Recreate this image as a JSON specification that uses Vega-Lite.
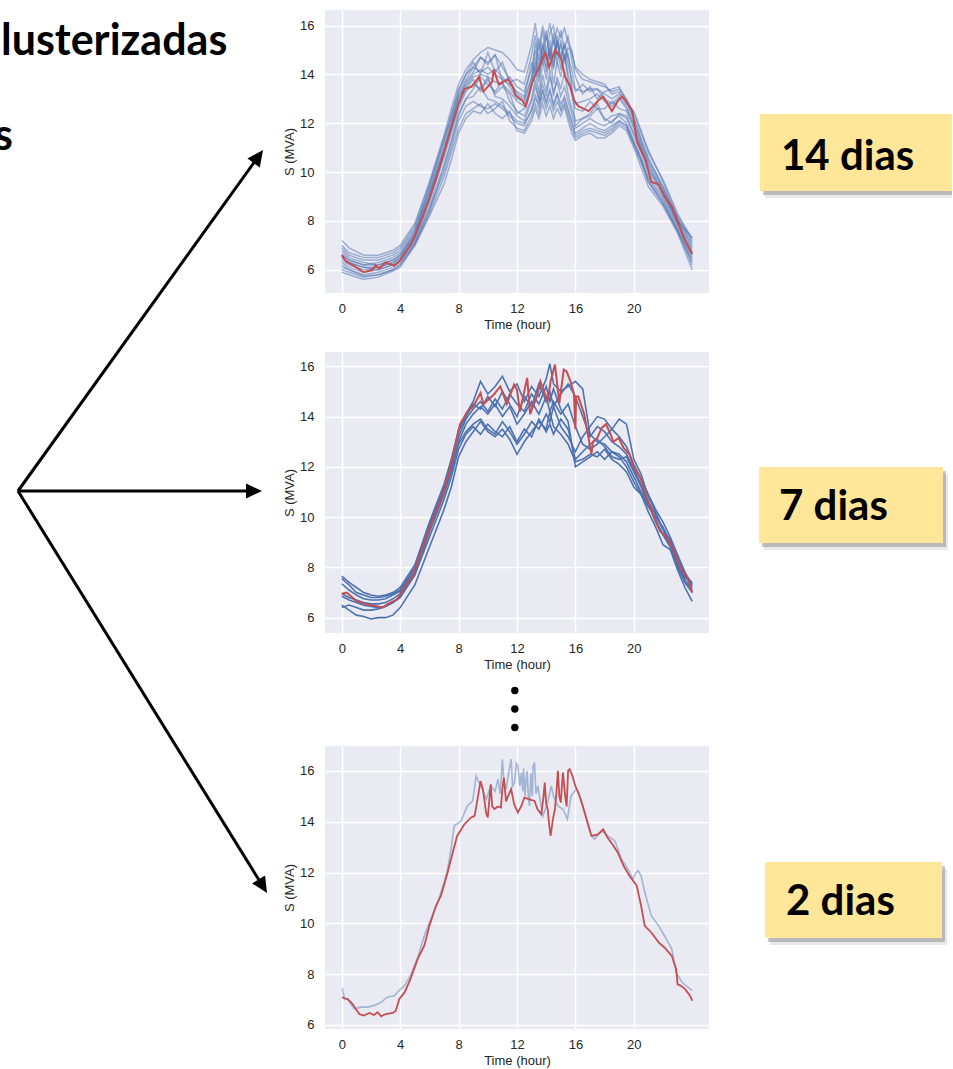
{
"$schema":"https://vega.github.io/schema/vega-lite/v6.json",
"background":"white",
"padding":{"top":10,"left":0,"right":0,"bottom":0},
"spacing":0,
"config":{"view":{"stroke":null},"axis":{"domain":false,"ticks":false,"tickSize":0,"grid":true,"gridColor":"#ffffff","gridWidth":1.5,"labelFont":"Liberation Sans","labelFontSize":13,"labelColor":"#262626","titleFont":"Liberation Sans","titleFontSize":13,"titleFontWeight":"normal","titleColor":"#262626"}},
"datasets":{
"p1":[
{"s":"a","t":0,"v":7.2},{"s":"a","t":0.5,"v":6.9},{"s":"a","t":1.5,"v":6.6},{"s":"a","t":2.5,"v":6.6},{"s":"a","t":3.5,"v":6.8},{"s":"a","t":4,"v":7.0},{"s":"a","t":5,"v":7.9},{"s":"a","t":6,"v":9.6},{"s":"a","t":7,"v":11.5},{"s":"a","t":7.5,"v":12.6},{"s":"a","t":8,"v":13.6},{"s":"a","t":8.5,"v":14.2},{"s":"a","t":9,"v":14.6},{"s":"a","t":9.5,"v":14.9},{"s":"a","t":10,"v":15.1},{"s":"a","t":10.5,"v":15.0},{"s":"a","t":11,"v":14.9},{"s":"a","t":11.5,"v":14.6},{"s":"a","t":12,"v":14.2},{"s":"a","t":12.5,"v":14.1},{"s":"a","t":13,"v":15.2},{"s":"a","t":13.25,"v":16.1},{"s":"a","t":13.5,"v":15.0},{"s":"a","t":13.75,"v":16.0},{"s":"a","t":14,"v":15.4},{"s":"a","t":14.25,"v":16.1},{"s":"a","t":14.5,"v":15.2},{"s":"a","t":14.75,"v":15.9},{"s":"a","t":15,"v":15.5},{"s":"a","t":15.25,"v":15.9},{"s":"a","t":15.5,"v":15.3},{"s":"a","t":15.75,"v":15.0},{"s":"a","t":16,"v":14.2},{"s":"a","t":16.5,"v":13.8},{"s":"a","t":17,"v":13.7},{"s":"a","t":17.5,"v":13.6},{"s":"a","t":18,"v":13.5},{"s":"a","t":18.5,"v":13.3},{"s":"a","t":19,"v":13.4},{"s":"a","t":19.5,"v":13.0},{"s":"a","t":20,"v":12.4},{"s":"a","t":20.5,"v":11.6},{"s":"a","t":21,"v":10.9},{"s":"a","t":22,"v":9.6},{"s":"a","t":23,"v":8.2},{"s":"a","t":24,"v":7.3},
{"s":"b","t":0,"v":6.9},{"s":"b","t":0.5,"v":6.6},{"s":"b","t":1.5,"v":6.4},{"s":"b","t":2.5,"v":6.4},{"s":"b","t":3.5,"v":6.6},{"s":"b","t":4,"v":6.8},{"s":"b","t":5,"v":7.7},{"s":"b","t":6,"v":9.3},{"s":"b","t":7,"v":11.2},{"s":"b","t":7.5,"v":12.3},{"s":"b","t":8,"v":13.3},{"s":"b","t":8.5,"v":14.0},{"s":"b","t":9,"v":14.5},{"s":"b","t":9.5,"v":14.0},{"s":"b","t":10,"v":14.9},{"s":"b","t":10.5,"v":14.1},{"s":"b","t":11,"v":14.5},{"s":"b","t":11.5,"v":13.7},{"s":"b","t":12,"v":13.8},{"s":"b","t":12.5,"v":13.6},{"s":"b","t":13,"v":14.8},{"s":"b","t":13.25,"v":15.6},{"s":"b","t":13.5,"v":14.6},{"s":"b","t":13.75,"v":15.8},{"s":"b","t":14,"v":14.9},{"s":"b","t":14.25,"v":15.7},{"s":"b","t":14.5,"v":16.0},{"s":"b","t":14.75,"v":15.1},{"s":"b","t":15,"v":15.8},{"s":"b","t":15.25,"v":15.0},{"s":"b","t":15.5,"v":15.6},{"s":"b","t":15.75,"v":14.6},{"s":"b","t":16,"v":13.9},{"s":"b","t":16.5,"v":13.2},{"s":"b","t":17,"v":13.5},{"s":"b","t":17.5,"v":13.0},{"s":"b","t":18,"v":13.3},{"s":"b","t":18.5,"v":13.4},{"s":"b","t":19,"v":13.5},{"s":"b","t":19.5,"v":12.9},{"s":"b","t":20,"v":12.2},{"s":"b","t":20.5,"v":11.4},{"s":"b","t":21,"v":10.6},{"s":"b","t":22,"v":9.4},{"s":"b","t":23,"v":8.1},{"s":"b","t":24,"v":7.1},
{"s":"c","t":0,"v":6.6},{"s":"c","t":0.5,"v":6.4},{"s":"c","t":1.5,"v":6.2},{"s":"c","t":2.5,"v":6.3},{"s":"c","t":3.5,"v":6.5},{"s":"c","t":4,"v":6.7},{"s":"c","t":5,"v":7.6},{"s":"c","t":6,"v":9.2},{"s":"c","t":7,"v":11.0},{"s":"c","t":7.5,"v":12.0},{"s":"c","t":8,"v":13.0},{"s":"c","t":8.5,"v":13.7},{"s":"c","t":9,"v":14.1},{"s":"c","t":9.5,"v":14.7},{"s":"c","t":10,"v":14.4},{"s":"c","t":10.5,"v":14.8},{"s":"c","t":11,"v":13.7},{"s":"c","t":11.5,"v":13.9},{"s":"c","t":12,"v":13.5},{"s":"c","t":12.5,"v":13.3},{"s":"c","t":13,"v":14.2},{"s":"c","t":13.25,"v":15.0},{"s":"c","t":13.5,"v":14.1},{"s":"c","t":13.75,"v":15.3},{"s":"c","t":14,"v":14.6},{"s":"c","t":14.25,"v":15.1},{"s":"c","t":14.5,"v":14.2},{"s":"c","t":14.75,"v":15.4},{"s":"c","t":15,"v":14.7},{"s":"c","t":15.25,"v":15.2},{"s":"c","t":15.5,"v":14.4},{"s":"c","t":15.75,"v":13.8},{"s":"c","t":16,"v":13.3},{"s":"c","t":16.5,"v":13.6},{"s":"c","t":17,"v":13.3},{"s":"c","t":17.5,"v":13.4},{"s":"c","t":18,"v":13.0},{"s":"c","t":18.5,"v":12.8},{"s":"c","t":19,"v":13.1},{"s":"c","t":19.5,"v":12.7},{"s":"c","t":20,"v":12.0},{"s":"c","t":20.5,"v":11.2},{"s":"c","t":21,"v":10.4},{"s":"c","t":22,"v":9.3},{"s":"c","t":23,"v":8.0},{"s":"c","t":24,"v":6.9},
{"s":"d","t":0,"v":6.4},{"s":"d","t":0.5,"v":6.2},{"s":"d","t":1.5,"v":6.0},{"s":"d","t":2.5,"v":6.1},{"s":"d","t":3.5,"v":6.3},{"s":"d","t":4,"v":6.5},{"s":"d","t":5,"v":7.4},{"s":"d","t":6,"v":9.0},{"s":"d","t":7,"v":10.8},{"s":"d","t":7.5,"v":11.8},{"s":"d","t":8,"v":12.8},{"s":"d","t":8.5,"v":13.4},{"s":"d","t":9,"v":13.8},{"s":"d","t":9.5,"v":13.3},{"s":"d","t":10,"v":13.8},{"s":"d","t":10.5,"v":13.2},{"s":"d","t":11,"v":13.5},{"s":"d","t":11.5,"v":13.2},{"s":"d","t":12,"v":12.4},{"s":"d","t":12.5,"v":12.6},{"s":"d","t":13,"v":13.5},{"s":"d","t":13.25,"v":14.3},{"s":"d","t":13.5,"v":13.2},{"s":"d","t":13.75,"v":14.6},{"s":"d","t":14,"v":13.8},{"s":"d","t":14.25,"v":14.9},{"s":"d","t":14.5,"v":13.6},{"s":"d","t":14.75,"v":14.5},{"s":"d","t":15,"v":13.9},{"s":"d","t":15.25,"v":14.8},{"s":"d","t":15.5,"v":13.7},{"s":"d","t":15.75,"v":13.2},{"s":"d","t":16,"v":12.6},{"s":"d","t":16.5,"v":12.5},{"s":"d","t":17,"v":12.9},{"s":"d","t":17.5,"v":12.6},{"s":"d","t":18,"v":12.6},{"s":"d","t":18.5,"v":12.9},{"s":"d","t":19,"v":12.6},{"s":"d","t":19.5,"v":12.5},{"s":"d","t":20,"v":11.8},{"s":"d","t":20.5,"v":11.0},{"s":"d","t":21,"v":10.2},{"s":"d","t":22,"v":9.1},{"s":"d","t":23,"v":7.9},{"s":"d","t":24,"v":6.8},
{"s":"e","t":0,"v":6.2},{"s":"e","t":0.5,"v":6.0},{"s":"e","t":1.5,"v":5.8},{"s":"e","t":2.5,"v":5.9},{"s":"e","t":3.5,"v":6.1},{"s":"e","t":4,"v":6.3},{"s":"e","t":5,"v":7.1},{"s":"e","t":6,"v":8.4},{"s":"e","t":7,"v":10.2},{"s":"e","t":7.5,"v":11.2},{"s":"e","t":8,"v":12.3},{"s":"e","t":8.5,"v":13.0},{"s":"e","t":9,"v":13.4},{"s":"e","t":9.5,"v":13.9},{"s":"e","t":10,"v":13.6},{"s":"e","t":10.5,"v":13.3},{"s":"e","t":11,"v":13.7},{"s":"e","t":11.5,"v":12.9},{"s":"e","t":12,"v":12.5},{"s":"e","t":12.5,"v":12.3},{"s":"e","t":13,"v":13.0},{"s":"e","t":13.25,"v":13.8},{"s":"e","t":13.5,"v":12.9},{"s":"e","t":13.75,"v":14.0},{"s":"e","t":14,"v":13.3},{"s":"e","t":14.25,"v":14.2},{"s":"e","t":14.5,"v":13.1},{"s":"e","t":14.75,"v":13.9},{"s":"e","t":15,"v":13.4},{"s":"e","t":15.25,"v":14.1},{"s":"e","t":15.5,"v":13.2},{"s":"e","t":15.75,"v":12.6},{"s":"e","t":16,"v":12.1},{"s":"e","t":16.5,"v":12.2},{"s":"e","t":17,"v":12.4},{"s":"e","t":17.5,"v":12.8},{"s":"e","t":18,"v":12.1},{"s":"e","t":18.5,"v":12.3},{"s":"e","t":19,"v":12.4},{"s":"e","t":19.5,"v":12.2},{"s":"e","t":20,"v":11.5},{"s":"e","t":20.5,"v":10.8},{"s":"e","t":21,"v":10.0},{"s":"e","t":22,"v":9.0},{"s":"e","t":23,"v":7.8},{"s":"e","t":24,"v":6.6},
{"s":"f","t":0,"v":6.0},{"s":"f","t":0.5,"v":5.9},{"s":"f","t":1.5,"v":5.7},{"s":"f","t":2.5,"v":5.8},{"s":"f","t":3.5,"v":6.0},{"s":"f","t":4,"v":6.2},{"s":"f","t":5,"v":7.0},{"s":"f","t":6,"v":8.3},{"s":"f","t":7,"v":9.8},{"s":"f","t":7.5,"v":10.8},{"s":"f","t":8,"v":11.8},{"s":"f","t":8.5,"v":12.4},{"s":"f","t":9,"v":12.6},{"s":"f","t":9.5,"v":12.8},{"s":"f","t":10,"v":12.4},{"s":"f","t":10.5,"v":12.6},{"s":"f","t":11,"v":12.9},{"s":"f","t":11.5,"v":12.1},{"s":"f","t":12,"v":11.8},{"s":"f","t":12.5,"v":11.7},{"s":"f","t":13,"v":12.3},{"s":"f","t":13.25,"v":12.8},{"s":"f","t":13.5,"v":12.4},{"s":"f","t":13.75,"v":13.1},{"s":"f","t":14,"v":12.6},{"s":"f","t":14.25,"v":13.0},{"s":"f","t":14.5,"v":12.5},{"s":"f","t":14.75,"v":12.9},{"s":"f","t":15,"v":12.5},{"s":"f","t":15.25,"v":12.8},{"s":"f","t":15.5,"v":12.3},{"s":"f","t":15.75,"v":11.8},{"s":"f","t":16,"v":11.4},{"s":"f","t":16.5,"v":11.6},{"s":"f","t":17,"v":11.7},{"s":"f","t":17.5,"v":11.6},{"s":"f","t":18,"v":11.5},{"s":"f","t":18.5,"v":11.7},{"s":"f","t":19,"v":12.0},{"s":"f","t":19.5,"v":11.8},{"s":"f","t":20,"v":11.1},{"s":"f","t":20.5,"v":10.4},{"s":"f","t":21,"v":9.6},{"s":"f","t":22,"v":8.7},{"s":"f","t":23,"v":7.6},{"s":"f","t":24,"v":6.2},
{"s":"g","t":0,"v":5.9},{"s":"g","t":0.5,"v":5.8},{"s":"g","t":1.5,"v":5.6},{"s":"g","t":2.5,"v":5.7},{"s":"g","t":3.5,"v":5.95},{"s":"g","t":4,"v":6.1},{"s":"g","t":5,"v":7.0},{"s":"g","t":6,"v":8.2},{"s":"g","t":7,"v":9.5},{"s":"g","t":7.5,"v":10.5},{"s":"g","t":8,"v":11.6},{"s":"g","t":8.5,"v":12.2},{"s":"g","t":9,"v":12.5},{"s":"g","t":9.5,"v":12.4},{"s":"g","t":10,"v":12.8},{"s":"g","t":10.5,"v":12.4},{"s":"g","t":11,"v":12.2},{"s":"g","t":11.5,"v":12.5},{"s":"g","t":12,"v":11.7},{"s":"g","t":12.5,"v":11.6},{"s":"g","t":13,"v":12.1},{"s":"g","t":13.25,"v":12.6},{"s":"g","t":13.5,"v":12.2},{"s":"g","t":13.75,"v":12.8},{"s":"g","t":14,"v":12.3},{"s":"g","t":14.25,"v":12.7},{"s":"g","t":14.5,"v":12.2},{"s":"g","t":14.75,"v":12.6},{"s":"g","t":15,"v":12.3},{"s":"g","t":15.25,"v":12.7},{"s":"g","t":15.5,"v":12.1},{"s":"g","t":15.75,"v":11.6},{"s":"g","t":16,"v":11.3},{"s":"g","t":16.5,"v":11.5},{"s":"g","t":17,"v":11.6},{"s":"g","t":17.5,"v":11.4},{"s":"g","t":18,"v":11.4},{"s":"g","t":18.5,"v":11.6},{"s":"g","t":19,"v":11.9},{"s":"g","t":19.5,"v":11.7},{"s":"g","t":20,"v":11.0},{"s":"g","t":20.5,"v":10.2},{"s":"g","t":21,"v":9.4},{"s":"g","t":22,"v":8.6},{"s":"g","t":23,"v":7.5},{"s":"g","t":24,"v":6.0},
{"s":"h","t":0,"v":6.8},{"s":"h","t":0.5,"v":6.5},{"s":"h","t":1.5,"v":6.3},{"s":"h","t":2.5,"v":6.2},{"s":"h","t":3.5,"v":6.4},{"s":"h","t":4,"v":6.6},{"s":"h","t":5,"v":7.5},{"s":"h","t":6,"v":9.4},{"s":"h","t":7,"v":11.3},{"s":"h","t":7.5,"v":12.2},{"s":"h","t":8,"v":13.2},{"s":"h","t":8.5,"v":13.8},{"s":"h","t":9,"v":14.3},{"s":"h","t":9.5,"v":14.7},{"s":"h","t":10,"v":14.5},{"s":"h","t":10.5,"v":14.8},{"s":"h","t":11,"v":14.3},{"s":"h","t":11.5,"v":13.8},{"s":"h","t":12,"v":13.2},{"s":"h","t":12.5,"v":13.0},{"s":"h","t":13,"v":13.9},{"s":"h","t":13.25,"v":15.3},{"s":"h","t":13.5,"v":14.4},{"s":"h","t":13.75,"v":15.0},{"s":"h","t":14,"v":15.8},{"s":"h","t":14.25,"v":14.6},{"s":"h","t":14.5,"v":15.4},{"s":"h","t":14.75,"v":14.8},{"s":"h","t":15,"v":15.2},{"s":"h","t":15.25,"v":14.5},{"s":"h","t":15.5,"v":14.9},{"s":"h","t":15.75,"v":13.5},{"s":"h","t":16,"v":11.9},{"s":"h","t":16.5,"v":12.2},{"s":"h","t":17,"v":12.3},{"s":"h","t":17.5,"v":12.6},{"s":"h","t":18,"v":12.2},{"s":"h","t":18.5,"v":12.0},{"s":"h","t":19,"v":12.4},{"s":"h","t":19.5,"v":12.3},{"s":"h","t":20,"v":11.6},{"s":"h","t":20.5,"v":11.0},{"s":"h","t":21,"v":10.1},{"s":"h","t":22,"v":9.2},{"s":"h","t":23,"v":7.9},{"s":"h","t":24,"v":6.7},
{"s":"i","t":0,"v":6.5},{"s":"i","t":0.5,"v":6.3},{"s":"i","t":1.5,"v":6.1},{"s":"i","t":2.5,"v":6.0},{"s":"i","t":3.5,"v":6.2},{"s":"i","t":4,"v":6.4},{"s":"i","t":5,"v":7.3},{"s":"i","t":6,"v":8.8},{"s":"i","t":7,"v":10.6},{"s":"i","t":7.5,"v":11.6},{"s":"i","t":8,"v":12.6},{"s":"i","t":8.5,"v":13.3},{"s":"i","t":9,"v":13.6},{"s":"i","t":9.5,"v":13.4},{"s":"i","t":10,"v":13.9},{"s":"i","t":10.5,"v":13.1},{"s":"i","t":11,"v":13.0},{"s":"i","t":11.5,"v":12.7},{"s":"i","t":12,"v":12.3},{"s":"i","t":12.5,"v":12.1},{"s":"i","t":13,"v":12.9},{"s":"i","t":13.25,"v":13.5},{"s":"i","t":13.5,"v":13.0},{"s":"i","t":13.75,"v":13.6},{"s":"i","t":14,"v":13.1},{"s":"i","t":14.25,"v":13.9},{"s":"i","t":14.5,"v":13.3},{"s":"i","t":14.75,"v":13.7},{"s":"i","t":15,"v":13.1},{"s":"i","t":15.25,"v":13.5},{"s":"i","t":15.5,"v":12.9},{"s":"i","t":15.75,"v":12.4},{"s":"i","t":16,"v":11.8},{"s":"i","t":16.5,"v":12.0},{"s":"i","t":17,"v":12.2},{"s":"i","t":17.5,"v":12.0},{"s":"i","t":18,"v":11.9},{"s":"i","t":18.5,"v":12.1},{"s":"i","t":19,"v":12.3},{"s":"i","t":19.5,"v":12.0},{"s":"i","t":20,"v":11.3},{"s":"i","t":20.5,"v":10.6},{"s":"i","t":21,"v":9.8},{"s":"i","t":22,"v":8.9},{"s":"i","t":23,"v":7.7},{"s":"i","t":24,"v":6.5},
{"s":"j","t":0,"v":7.0},{"s":"j","t":0.5,"v":6.7},{"s":"j","t":1.5,"v":6.5},{"s":"j","t":2.5,"v":6.5},{"s":"j","t":3.5,"v":6.7},{"s":"j","t":4,"v":6.9},{"s":"j","t":5,"v":7.8},{"s":"j","t":6,"v":9.5},{"s":"j","t":7,"v":11.4},{"s":"j","t":7.5,"v":12.4},{"s":"j","t":8,"v":13.4},{"s":"j","t":8.5,"v":14.0},{"s":"j","t":9,"v":14.3},{"s":"j","t":9.5,"v":14.1},{"s":"j","t":10,"v":14.3},{"s":"j","t":10.5,"v":14.0},{"s":"j","t":11,"v":13.8},{"s":"j","t":11.5,"v":13.6},{"s":"j","t":12,"v":13.3},{"s":"j","t":12.5,"v":13.1},{"s":"j","t":13,"v":14.5},{"s":"j","t":13.25,"v":14.0},{"s":"j","t":13.5,"v":15.5},{"s":"j","t":13.75,"v":14.4},{"s":"j","t":14,"v":15.6},{"s":"j","t":14.25,"v":14.8},{"s":"j","t":14.5,"v":15.7},{"s":"j","t":14.75,"v":14.4},{"s":"j","t":15,"v":15.4},{"s":"j","t":15.25,"v":14.6},{"s":"j","t":15.5,"v":15.1},{"s":"j","t":15.75,"v":14.9},{"s":"j","t":16,"v":14.3},{"s":"j","t":16.5,"v":14.0},{"s":"j","t":17,"v":13.8},{"s":"j","t":17.5,"v":13.7},{"s":"j","t":18,"v":13.6},{"s":"j","t":18.5,"v":13.2},{"s":"j","t":19,"v":13.3},{"s":"j","t":19.5,"v":12.8},{"s":"j","t":20,"v":12.5},{"s":"j","t":20.5,"v":11.7},{"s":"j","t":21,"v":10.8},{"s":"j","t":22,"v":9.7},{"s":"j","t":23,"v":8.3},{"s":"j","t":24,"v":7.2},
{"s":"k","t":0,"v":6.3},{"s":"k","t":0.5,"v":6.1},{"s":"k","t":1.5,"v":5.9},{"s":"k","t":2.5,"v":6.0},{"s":"k","t":3.5,"v":6.2},{"s":"k","t":4,"v":6.4},{"s":"k","t":5,"v":7.2},{"s":"k","t":6,"v":8.6},{"s":"k","t":7,"v":10.3},{"s":"k","t":7.5,"v":11.3},{"s":"k","t":8,"v":12.4},{"s":"k","t":8.5,"v":13.0},{"s":"k","t":9,"v":13.1},{"s":"k","t":9.5,"v":13.5},{"s":"k","t":10,"v":13.0},{"s":"k","t":10.5,"v":12.9},{"s":"k","t":11,"v":12.7},{"s":"k","t":11.5,"v":12.4},{"s":"k","t":12,"v":12.1},{"s":"k","t":12.5,"v":12.0},{"s":"k","t":13,"v":12.5},{"s":"k","t":13.25,"v":13.2},{"s":"k","t":13.5,"v":12.6},{"s":"k","t":13.75,"v":13.4},{"s":"k","t":14,"v":12.8},{"s":"k","t":14.25,"v":13.3},{"s":"k","t":14.5,"v":12.7},{"s":"k","t":14.75,"v":13.2},{"s":"k","t":15,"v":12.6},{"s":"k","t":15.25,"v":13.0},{"s":"k","t":15.5,"v":12.5},{"s":"k","t":15.75,"v":12.0},{"s":"k","t":16,"v":11.6},{"s":"k","t":16.5,"v":11.8},{"s":"k","t":17,"v":12.0},{"s":"k","t":17.5,"v":11.8},{"s":"k","t":18,"v":11.7},{"s":"k","t":18.5,"v":11.9},{"s":"k","t":19,"v":12.1},{"s":"k","t":19.5,"v":11.9},{"s":"k","t":20,"v":11.2},{"s":"k","t":20.5,"v":10.5},{"s":"k","t":21,"v":9.7},{"s":"k","t":22,"v":8.8},{"s":"k","t":23,"v":7.6},{"s":"k","t":24,"v":6.3},
{"s":"l","t":0,"v":6.7},{"s":"l","t":0.5,"v":6.4},{"s":"l","t":1.5,"v":6.2},{"s":"l","t":2.5,"v":6.2},{"s":"l","t":3.5,"v":6.4},{"s":"l","t":4,"v":6.6},{"s":"l","t":5,"v":7.5},{"s":"l","t":6,"v":9.1},{"s":"l","t":7,"v":10.9},{"s":"l","t":7.5,"v":11.9},{"s":"l","t":8,"v":12.9},{"s":"l","t":8.5,"v":13.5},{"s":"l","t":9,"v":13.9},{"s":"l","t":9.5,"v":14.0},{"s":"l","t":10,"v":13.9},{"s":"l","t":10.5,"v":13.7},{"s":"l","t":11,"v":13.6},{"s":"l","t":11.5,"v":13.3},{"s":"l","t":12,"v":12.9},{"s":"l","t":12.5,"v":12.7},{"s":"l","t":13,"v":13.6},{"s":"l","t":13.25,"v":14.5},{"s":"l","t":13.5,"v":13.7},{"s":"l","t":13.75,"v":15.2},{"s":"l","t":14,"v":14.1},{"s":"l","t":14.25,"v":15.0},{"s":"l","t":14.5,"v":14.3},{"s":"l","t":14.75,"v":15.3},{"s":"l","t":15,"v":14.2},{"s":"l","t":15.25,"v":14.9},{"s":"l","t":15.5,"v":14.0},{"s":"l","t":15.75,"v":13.4},{"s":"l","t":16,"v":12.8},{"s":"l","t":16.5,"v":12.9},{"s":"l","t":17,"v":13.0},{"s":"l","t":17.5,"v":13.2},{"s":"l","t":18,"v":12.9},{"s":"l","t":18.5,"v":12.7},{"s":"l","t":19,"v":13.0},{"s":"l","t":19.5,"v":12.6},{"s":"l","t":20,"v":11.9},{"s":"l","t":20.5,"v":11.1},{"s":"l","t":21,"v":10.3},{"s":"l","t":22,"v":9.2},{"s":"l","t":23,"v":8.0},{"s":"l","t":24,"v":7.3},
{"s":"m","t":0,"v":6.1},{"s":"m","t":0.5,"v":6.0},{"s":"m","t":1.5,"v":5.75},{"s":"m","t":2.5,"v":5.8},{"s":"m","t":3.5,"v":6.0},{"s":"m","t":4,"v":6.2},{"s":"m","t":5,"v":7.1},{"s":"m","t":6,"v":8.5},{"s":"m","t":7,"v":10.0},{"s":"m","t":7.5,"v":11.0},{"s":"m","t":8,"v":12.1},{"s":"m","t":8.5,"v":12.7},{"s":"m","t":9,"v":12.9},{"s":"m","t":9.5,"v":12.7},{"s":"m","t":10,"v":12.6},{"s":"m","t":10.5,"v":12.8},{"s":"m","t":11,"v":12.6},{"s":"m","t":11.5,"v":12.3},{"s":"m","t":12,"v":12.0},{"s":"m","t":12.5,"v":11.9},{"s":"m","t":13,"v":12.6},{"s":"m","t":13.25,"v":13.0},{"s":"m","t":13.5,"v":12.8},{"s":"m","t":13.75,"v":13.3},{"s":"m","t":14,"v":12.9},{"s":"m","t":14.25,"v":13.4},{"s":"m","t":14.5,"v":12.8},{"s":"m","t":14.75,"v":13.2},{"s":"m","t":15,"v":12.8},{"s":"m","t":15.25,"v":13.1},{"s":"m","t":15.5,"v":12.6},{"s":"m","t":15.75,"v":12.1},{"s":"m","t":16,"v":11.5},{"s":"m","t":16.5,"v":11.7},{"s":"m","t":17,"v":11.8},{"s":"m","t":17.5,"v":11.7},{"s":"m","t":18,"v":11.6},{"s":"m","t":18.5,"v":11.8},{"s":"m","t":19,"v":12.1},{"s":"m","t":19.5,"v":11.9},{"s":"m","t":20,"v":11.2},{"s":"m","t":20.5,"v":10.5},{"s":"m","t":21,"v":9.6},{"s":"m","t":22,"v":8.7},{"s":"m","t":23,"v":7.6},{"s":"m","t":24,"v":6.4},
{"s":"n","t":0,"v":6.5},{"s":"n","t":0.5,"v":6.3},{"s":"n","t":1.5,"v":6.1},{"s":"n","t":2.5,"v":6.1},{"s":"n","t":3.5,"v":6.3},{"s":"n","t":4,"v":6.5},{"s":"n","t":5,"v":7.4},{"s":"n","t":6,"v":9.0},{"s":"n","t":7,"v":10.9},{"s":"n","t":7.5,"v":12.0},{"s":"n","t":8,"v":13.1},{"s":"n","t":8.5,"v":13.6},{"s":"n","t":9,"v":14.0},{"s":"n","t":9.5,"v":14.2},{"s":"n","t":10,"v":14.0},{"s":"n","t":10.5,"v":14.2},{"s":"n","t":11,"v":13.9},{"s":"n","t":11.5,"v":13.5},{"s":"n","t":12,"v":13.0},{"s":"n","t":12.5,"v":12.9},{"s":"n","t":13,"v":13.8},{"s":"n","t":13.25,"v":14.7},{"s":"n","t":13.5,"v":13.9},{"s":"n","t":13.75,"v":14.9},{"s":"n","t":14,"v":14.3},{"s":"n","t":14.25,"v":15.4},{"s":"n","t":14.5,"v":14.5},{"s":"n","t":14.75,"v":15.6},{"s":"n","t":15,"v":14.6},{"s":"n","t":15.25,"v":15.3},{"s":"n","t":15.5,"v":14.7},{"s":"n","t":15.75,"v":14.2},{"s":"n","t":16,"v":13.4},{"s":"n","t":16.5,"v":13.3},{"s":"n","t":17,"v":13.4},{"s":"n","t":17.5,"v":13.4},{"s":"n","t":18,"v":13.2},{"s":"n","t":18.5,"v":13.0},{"s":"n","t":19,"v":13.2},{"s":"n","t":19.5,"v":12.9},{"s":"n","t":20,"v":12.2},{"s":"n","t":20.5,"v":11.3},{"s":"n","t":21,"v":10.5},{"s":"n","t":22,"v":9.4},{"s":"n","t":23,"v":8.1},{"s":"n","t":24,"v":7.0}
],
"p1r":[
{"t":0,"v":6.6},{"t":0.3,"v":6.35},{"t":1.0,"v":6.1},{"t":1.5,"v":5.9},{"t":2.1,"v":6.0},{"t":2.3,"v":6.18},{"t":2.55,"v":6.05},{"t":3.0,"v":6.3},{"t":3.6,"v":6.17},{"t":4.0,"v":6.38},{"t":4.8,"v":7.1},{"t":5.5,"v":8.1},{"t":6.0,"v":8.9},{"t":6.5,"v":9.8},{"t":7.0,"v":10.8},{"t":7.5,"v":11.8},{"t":8.0,"v":12.8},{"t":8.4,"v":13.4},{"t":8.9,"v":13.5},{"t":9.4,"v":13.9},{"t":9.7,"v":13.3},{"t":10.3,"v":13.7},{"t":10.4,"v":14.2},{"t":10.75,"v":13.6},{"t":11.4,"v":13.8},{"t":11.7,"v":13.5},{"t":11.9,"v":13.15},{"t":12.35,"v":12.95},{"t":12.6,"v":12.7},{"t":12.8,"v":13.1},{"t":13.0,"v":13.6},{"t":13.5,"v":14.3},{"t":13.95,"v":14.9},{"t":14.2,"v":14.3},{"t":14.6,"v":15.0},{"t":15.0,"v":14.7},{"t":15.3,"v":13.9},{"t":15.65,"v":13.5},{"t":15.9,"v":12.95},{"t":16.2,"v":12.7},{"t":16.9,"v":12.5},{"t":17.6,"v":12.95},{"t":17.9,"v":13.1},{"t":18.5,"v":12.5},{"t":18.95,"v":12.95},{"t":19.2,"v":13.1},{"t":19.6,"v":12.8},{"t":19.9,"v":12.5},{"t":20.2,"v":11.3},{"t":20.4,"v":11.0},{"t":20.8,"v":10.5},{"t":21.2,"v":9.6},{"t":21.7,"v":9.5},{"t":22.1,"v":9.0},{"t":22.6,"v":8.6},{"t":23.05,"v":7.9},{"t":23.5,"v":7.2},{"t":24.0,"v":6.66}
],
"p2":[
{"s":"A","t":0,"v":7.65},{"s":"A","t":0.5,"v":7.4},{"s":"A","t":1,"v":7.2},{"s":"A","t":1.5,"v":7.0},{"s":"A","t":2,"v":6.9},{"s":"A","t":2.5,"v":6.85},{"s":"A","t":3,"v":6.9},{"s":"A","t":3.5,"v":7.0},{"s":"A","t":4,"v":7.2},{"s":"A","t":5,"v":8.1},{"s":"A","t":6,"v":9.8},{"s":"A","t":7,"v":11.3},{"s":"A","t":7.5,"v":12.3},{"s":"A","t":8,"v":13.5},{"s":"A","t":8.5,"v":14.1},{"s":"A","t":9,"v":14.6},{"s":"A","t":9.5,"v":15.4},{"s":"A","t":10,"v":14.9},{"s":"A","t":10.5,"v":15.2},{"s":"A","t":11,"v":15.6},{"s":"A","t":11.5,"v":15.0},{"s":"A","t":12,"v":15.3},{"s":"A","t":12.5,"v":14.6},{"s":"A","t":13,"v":15.2},{"s":"A","t":13.5,"v":14.8},{"s":"A","t":14,"v":15.5},{"s":"A","t":14.25,"v":16.1},{"s":"A","t":14.5,"v":15.3},{"s":"A","t":15,"v":15.0},{"s":"A","t":15.5,"v":15.2},{"s":"A","t":16,"v":15.4},{"s":"A","t":16.5,"v":15.1},{"s":"A","t":17,"v":13.3},{"s":"A","t":17.5,"v":13.0},{"s":"A","t":18,"v":12.9},{"s":"A","t":18.5,"v":12.6},{"s":"A","t":19,"v":12.4},{"s":"A","t":19.5,"v":12.0},{"s":"A","t":20,"v":11.4},{"s":"A","t":20.5,"v":10.9},{"s":"A","t":21,"v":10.4},{"s":"A","t":21.5,"v":10.0},{"s":"A","t":22,"v":9.6},{"s":"A","t":22.5,"v":9.0},{"s":"A","t":23,"v":8.3},{"s":"A","t":23.5,"v":7.7},{"s":"A","t":24,"v":7.4},
{"s":"B","t":0,"v":7.55},{"s":"B","t":0.5,"v":7.3},{"s":"B","t":1,"v":7.0},{"s":"B","t":1.5,"v":6.9},{"s":"B","t":2,"v":6.8},{"s":"B","t":2.5,"v":6.8},{"s":"B","t":3,"v":6.85},{"s":"B","t":3.5,"v":6.95},{"s":"B","t":4,"v":7.1},{"s":"B","t":5,"v":8.0},{"s":"B","t":6,"v":9.7},{"s":"B","t":7,"v":11.2},{"s":"B","t":7.5,"v":12.2},{"s":"B","t":8,"v":13.4},{"s":"B","t":8.5,"v":14.0},{"s":"B","t":9,"v":14.5},{"s":"B","t":9.5,"v":14.3},{"s":"B","t":10,"v":14.8},{"s":"B","t":10.5,"v":14.4},{"s":"B","t":11,"v":15.0},{"s":"B","t":11.5,"v":14.5},{"s":"B","t":12,"v":14.0},{"s":"B","t":12.5,"v":14.8},{"s":"B","t":13,"v":14.4},{"s":"B","t":13.5,"v":15.3},{"s":"B","t":14,"v":14.6},{"s":"B","t":14.25,"v":15.0},{"s":"B","t":14.5,"v":14.4},{"s":"B","t":15,"v":14.9},{"s":"B","t":15.5,"v":15.3},{"s":"B","t":16,"v":14.8},{"s":"B","t":16.5,"v":14.0},{"s":"B","t":17,"v":13.2},{"s":"B","t":17.5,"v":13.6},{"s":"B","t":18,"v":13.4},{"s":"B","t":18.5,"v":13.0},{"s":"B","t":19,"v":12.8},{"s":"B","t":19.5,"v":12.5},{"s":"B","t":20,"v":11.9},{"s":"B","t":20.5,"v":11.3},{"s":"B","t":21,"v":10.6},{"s":"B","t":21.5,"v":10.1},{"s":"B","t":22,"v":9.5},{"s":"B","t":22.5,"v":9.1},{"s":"B","t":23,"v":8.4},{"s":"B","t":23.5,"v":7.8},{"s":"B","t":24,"v":7.3},
{"s":"C","t":0,"v":7.35},{"s":"C","t":0.5,"v":7.1},{"s":"C","t":1,"v":6.9},{"s":"C","t":1.5,"v":6.75},{"s":"C","t":2,"v":6.7},{"s":"C","t":2.5,"v":6.7},{"s":"C","t":3,"v":6.75},{"s":"C","t":3.5,"v":6.9},{"s":"C","t":4,"v":7.05},{"s":"C","t":5,"v":7.9},{"s":"C","t":6,"v":9.6},{"s":"C","t":7,"v":11.1},{"s":"C","t":7.5,"v":12.1},{"s":"C","t":8,"v":13.2},{"s":"C","t":8.5,"v":13.9},{"s":"C","t":9,"v":14.3},{"s":"C","t":9.5,"v":14.6},{"s":"C","t":10,"v":14.2},{"s":"C","t":10.5,"v":14.7},{"s":"C","t":11,"v":14.3},{"s":"C","t":11.5,"v":14.9},{"s":"C","t":12,"v":14.5},{"s":"C","t":12.5,"v":14.2},{"s":"C","t":13,"v":14.9},{"s":"C","t":13.5,"v":14.5},{"s":"C","t":14,"v":15.2},{"s":"C","t":14.25,"v":14.6},{"s":"C","t":14.5,"v":15.1},{"s":"C","t":15,"v":14.3},{"s":"C","t":15.5,"v":13.8},{"s":"C","t":16,"v":12.0},{"s":"C","t":16.5,"v":12.2},{"s":"C","t":17,"v":12.4},{"s":"C","t":17.5,"v":12.6},{"s":"C","t":18,"v":12.3},{"s":"C","t":18.5,"v":12.6},{"s":"C","t":19,"v":12.5},{"s":"C","t":19.5,"v":12.2},{"s":"C","t":20,"v":11.6},{"s":"C","t":20.5,"v":11.0},{"s":"C","t":21,"v":10.5},{"s":"C","t":21.5,"v":9.8},{"s":"C","t":22,"v":9.3},{"s":"C","t":22.5,"v":8.8},{"s":"C","t":23,"v":8.0},{"s":"C","t":23.5,"v":7.4},{"s":"C","t":24,"v":7.0},
{"s":"D","t":0,"v":6.95},{"s":"D","t":0.5,"v":6.8},{"s":"D","t":1,"v":6.7},{"s":"D","t":1.5,"v":6.6},{"s":"D","t":2,"v":6.55},{"s":"D","t":2.5,"v":6.55},{"s":"D","t":3,"v":6.6},{"s":"D","t":3.5,"v":6.75},{"s":"D","t":4,"v":6.95},{"s":"D","t":5,"v":7.8},{"s":"D","t":6,"v":9.5},{"s":"D","t":7,"v":11.0},{"s":"D","t":7.5,"v":11.9},{"s":"D","t":8,"v":12.9},{"s":"D","t":8.5,"v":13.4},{"s":"D","t":9,"v":13.7},{"s":"D","t":9.5,"v":13.9},{"s":"D","t":10,"v":13.5},{"s":"D","t":10.5,"v":13.3},{"s":"D","t":11,"v":13.8},{"s":"D","t":11.5,"v":13.4},{"s":"D","t":12,"v":12.9},{"s":"D","t":12.5,"v":13.3},{"s":"D","t":13,"v":13.8},{"s":"D","t":13.5,"v":13.5},{"s":"D","t":14,"v":14.1},{"s":"D","t":14.25,"v":13.8},{"s":"D","t":14.5,"v":14.4},{"s":"D","t":15,"v":13.6},{"s":"D","t":15.5,"v":13.2},{"s":"D","t":16,"v":12.6},{"s":"D","t":16.5,"v":13.2},{"s":"D","t":17,"v":13.6},{"s":"D","t":17.5,"v":14.0},{"s":"D","t":18,"v":13.9},{"s":"D","t":18.5,"v":13.5},{"s":"D","t":19,"v":13.2},{"s":"D","t":19.5,"v":12.8},{"s":"D","t":20,"v":12.1},{"s":"D","t":20.5,"v":11.5},{"s":"D","t":21,"v":10.9},{"s":"D","t":21.5,"v":10.3},{"s":"D","t":22,"v":9.8},{"s":"D","t":22.5,"v":9.2},{"s":"D","t":23,"v":8.5},{"s":"D","t":23.5,"v":7.8},{"s":"D","t":24,"v":7.2},
{"s":"E","t":0,"v":6.85},{"s":"E","t":0.5,"v":6.7},{"s":"E","t":1,"v":6.6},{"s":"E","t":1.5,"v":6.5},{"s":"E","t":2,"v":6.45},{"s":"E","t":2.5,"v":6.4},{"s":"E","t":3,"v":6.45},{"s":"E","t":3.5,"v":6.6},{"s":"E","t":4,"v":6.85},{"s":"E","t":5,"v":7.7},{"s":"E","t":6,"v":9.4},{"s":"E","t":7,"v":10.9},{"s":"E","t":7.5,"v":11.8},{"s":"E","t":8,"v":13.0},{"s":"E","t":8.5,"v":13.7},{"s":"E","t":9,"v":14.1},{"s":"E","t":9.5,"v":14.4},{"s":"E","t":10,"v":14.1},{"s":"E","t":10.5,"v":14.5},{"s":"E","t":11,"v":14.0},{"s":"E","t":11.5,"v":14.4},{"s":"E","t":12,"v":13.7},{"s":"E","t":12.5,"v":14.1},{"s":"E","t":13,"v":14.6},{"s":"E","t":13.5,"v":14.1},{"s":"E","t":14,"v":14.8},{"s":"E","t":14.25,"v":14.2},{"s":"E","t":14.5,"v":14.6},{"s":"E","t":15,"v":14.1},{"s":"E","t":15.5,"v":14.5},{"s":"E","t":16,"v":13.6},{"s":"E","t":16.5,"v":12.9},{"s":"E","t":17,"v":12.7},{"s":"E","t":17.5,"v":12.9},{"s":"E","t":18,"v":13.2},{"s":"E","t":18.5,"v":13.5},{"s":"E","t":19,"v":13.9},{"s":"E","t":19.5,"v":13.7},{"s":"E","t":20,"v":12.3},{"s":"E","t":20.5,"v":11.7},{"s":"E","t":21,"v":10.8},{"s":"E","t":21.5,"v":10.2},{"s":"E","t":22,"v":9.5},{"s":"E","t":22.5,"v":8.9},{"s":"E","t":23,"v":8.1},{"s":"E","t":23.5,"v":7.5},{"s":"E","t":24,"v":7.1},
{"s":"F","t":0,"v":6.5},{"s":"F","t":0.5,"v":6.3},{"s":"F","t":1,"v":6.1},{"s":"F","t":1.5,"v":6.05},{"s":"F","t":2,"v":5.95},{"s":"F","t":2.5,"v":6.0},{"s":"F","t":3,"v":6.0},{"s":"F","t":3.5,"v":6.1},{"s":"F","t":4,"v":6.4},{"s":"F","t":5,"v":7.3},{"s":"F","t":6,"v":8.8},{"s":"F","t":7,"v":10.3},{"s":"F","t":7.5,"v":11.2},{"s":"F","t":8,"v":12.4},{"s":"F","t":8.5,"v":13.0},{"s":"F","t":9,"v":13.4},{"s":"F","t":9.5,"v":13.8},{"s":"F","t":10,"v":13.4},{"s":"F","t":10.5,"v":13.2},{"s":"F","t":11,"v":13.5},{"s":"F","t":11.5,"v":13.1},{"s":"F","t":12,"v":12.5},{"s":"F","t":12.5,"v":13.0},{"s":"F","t":13,"v":13.4},{"s":"F","t":13.5,"v":13.8},{"s":"F","t":14,"v":13.5},{"s":"F","t":14.25,"v":14.2},{"s":"F","t":14.5,"v":13.6},{"s":"F","t":15,"v":13.3},{"s":"F","t":15.5,"v":12.9},{"s":"F","t":16,"v":12.2},{"s":"F","t":16.5,"v":12.3},{"s":"F","t":17,"v":12.5},{"s":"F","t":17.5,"v":12.4},{"s":"F","t":18,"v":12.7},{"s":"F","t":18.5,"v":12.3},{"s":"F","t":19,"v":12.1},{"s":"F","t":19.5,"v":11.8},{"s":"F","t":20,"v":11.2},{"s":"F","t":20.5,"v":10.9},{"s":"F","t":21,"v":10.2},{"s":"F","t":21.5,"v":9.6},{"s":"F","t":22,"v":8.9},{"s":"F","t":22.5,"v":8.7},{"s":"F","t":23,"v":7.9},{"s":"F","t":23.5,"v":7.2},{"s":"F","t":24,"v":6.65},
{"s":"G","t":0,"v":6.4},{"s":"G","t":0.5,"v":6.5},{"s":"G","t":1,"v":6.4},{"s":"G","t":1.5,"v":6.3},{"s":"G","t":2,"v":6.3},{"s":"G","t":2.5,"v":6.35},{"s":"G","t":3,"v":6.45},{"s":"G","t":3.5,"v":6.6},{"s":"G","t":4,"v":6.8},{"s":"G","t":5,"v":7.7},{"s":"G","t":6,"v":9.2},{"s":"G","t":7,"v":10.7},{"s":"G","t":7.5,"v":11.6},{"s":"G","t":8,"v":12.7},{"s":"G","t":8.5,"v":13.3},{"s":"G","t":9,"v":13.6},{"s":"G","t":9.5,"v":13.3},{"s":"G","t":10,"v":13.7},{"s":"G","t":10.5,"v":13.4},{"s":"G","t":11,"v":13.2},{"s":"G","t":11.5,"v":13.6},{"s":"G","t":12,"v":13.0},{"s":"G","t":12.5,"v":13.5},{"s":"G","t":13,"v":13.2},{"s":"G","t":13.5,"v":13.9},{"s":"G","t":14,"v":13.4},{"s":"G","t":14.25,"v":13.7},{"s":"G","t":14.5,"v":13.3},{"s":"G","t":15,"v":13.9},{"s":"G","t":15.5,"v":13.5},{"s":"G","t":16,"v":12.3},{"s":"G","t":16.5,"v":12.6},{"s":"G","t":17,"v":12.9},{"s":"G","t":17.5,"v":13.1},{"s":"G","t":18,"v":12.8},{"s":"G","t":18.5,"v":12.4},{"s":"G","t":19,"v":12.3},{"s":"G","t":19.5,"v":12.4},{"s":"G","t":20,"v":11.8},{"s":"G","t":20.5,"v":11.2},{"s":"G","t":21,"v":10.5},{"s":"G","t":21.5,"v":9.9},{"s":"G","t":22,"v":9.3},{"s":"G","t":22.5,"v":8.9},{"s":"G","t":23,"v":8.2},{"s":"G","t":23.5,"v":7.6},{"s":"G","t":24,"v":7.35}
],
"p2r":[
{"t":0,"v":6.95},{"t":0.34,"v":7.0},{"t":1.0,"v":6.66},{"t":1.7,"v":6.53},{"t":2.4,"v":6.46},{"t":2.8,"v":6.4},{"t":3.1,"v":6.53},{"t":3.8,"v":6.73},{"t":4.0,"v":6.93},{"t":4.9,"v":7.72},{"t":5.6,"v":8.9},{"t":6.3,"v":9.97},{"t":7.0,"v":11.0},{"t":7.66,"v":12.5},{"t":8.1,"v":13.7},{"t":8.6,"v":14.2},{"t":9.0,"v":14.4},{"t":9.5,"v":14.94},{"t":9.7,"v":14.5},{"t":10.4,"v":14.87},{"t":10.86,"v":15.2},{"t":11.3,"v":14.5},{"t":11.8,"v":15.27},{"t":12.0,"v":15.07},{"t":12.2,"v":14.2},{"t":12.7,"v":15.54},{"t":12.9,"v":14.1},{"t":13.4,"v":14.87},{"t":13.6,"v":15.4},{"t":14.1,"v":14.6},{"t":14.3,"v":15.4},{"t":14.6,"v":16.07},{"t":14.9,"v":14.54},{"t":15.2,"v":15.87},{"t":15.4,"v":15.8},{"t":15.66,"v":15.4},{"t":15.9,"v":14.9},{"t":16.0,"v":13.5},{"t":16.05,"v":14.8},{"t":16.2,"v":14.8},{"t":16.6,"v":14.1},{"t":16.9,"v":13.15},{"t":17.1,"v":12.5},{"t":17.2,"v":13.0},{"t":17.5,"v":13.15},{"t":17.8,"v":13.55},{"t":18.1,"v":13.7},{"t":18.4,"v":13.3},{"t":18.6,"v":13.0},{"t":18.97,"v":13.15},{"t":19.3,"v":12.75},{"t":19.7,"v":12.5},{"t":20.0,"v":11.96},{"t":20.46,"v":11.56},{"t":20.9,"v":10.77},{"t":21.4,"v":9.97},{"t":21.8,"v":9.44},{"t":22.3,"v":9.18},{"t":22.75,"v":8.65},{"t":23.2,"v":7.99},{"t":23.66,"v":7.6},{"t":24.0,"v":7.0}
],
"p3b":[
{"t":0,"v":7.35},{"t":0.05,"v":7.4},{"t":0.2,"v":7.0},{"t":0.4,"v":7.02},{"t":0.85,"v":6.63},{"t":1.3,"v":6.7},{"t":1.76,"v":6.7},{"t":2.2,"v":6.76},{"t":2.7,"v":6.89},{"t":3.1,"v":7.09},{"t":3.6,"v":7.15},{"t":3.8,"v":7.28},{"t":4.3,"v":7.55},{"t":4.7,"v":7.94},{"t":5.2,"v":8.66},{"t":5.65,"v":9.51},{"t":6.0,"v":10.03},{"t":6.57,"v":10.82},{"t":7.0,"v":11.6},{"t":7.25,"v":12.13},{"t":7.5,"v":13.0},{"t":7.7,"v":13.84},{"t":8.17,"v":14.03},{"t":8.6,"v":14.62},{"t":8.97,"v":14.82},{"t":9.2,"v":15.8},{"t":9.35,"v":15.6},{"t":9.54,"v":15.41},{"t":9.9,"v":14.88},{"t":10.2,"v":15.41},{"t":10.5,"v":15.2},{"t":10.7,"v":15.67},{"t":10.85,"v":15.1},{"t":11.0,"v":16.46},{"t":11.1,"v":15.6},{"t":11.26,"v":15.28},{"t":11.45,"v":16.0},{"t":11.6,"v":16.46},{"t":11.7,"v":15.4},{"t":11.83,"v":15.54},{"t":11.95,"v":16.3},{"t":12.06,"v":16.2},{"t":12.2,"v":15.4},{"t":12.3,"v":15.93},{"t":12.4,"v":15.2},{"t":12.45,"v":16.1},{"t":12.55,"v":15.0},{"t":12.63,"v":15.67},{"t":12.7,"v":16.0},{"t":12.78,"v":14.9},{"t":12.86,"v":14.62},{"t":12.95,"v":15.9},{"t":13.05,"v":15.0},{"t":13.1,"v":16.2},{"t":13.2,"v":16.33},{"t":13.3,"v":15.1},{"t":13.43,"v":15.41},{"t":13.6,"v":14.8},{"t":13.78,"v":14.23},{"t":14.1,"v":14.75},{"t":14.35,"v":15.41},{"t":14.5,"v":15.0},{"t":14.8,"v":14.62},{"t":15.15,"v":14.49},{"t":15.3,"v":14.3},{"t":15.45,"v":14.1},{"t":15.7,"v":15.02},{"t":16.06,"v":15.28},{"t":16.4,"v":14.88},{"t":16.75,"v":14.1},{"t":17.0,"v":13.58},{"t":17.3,"v":13.31},{"t":17.8,"v":13.64},{"t":18.2,"v":13.44},{"t":18.7,"v":13.25},{"t":19.15,"v":12.53},{"t":19.6,"v":12.13},{"t":19.95,"v":11.74},{"t":20.15,"v":12.0},{"t":20.3,"v":12.07},{"t":20.5,"v":11.87},{"t":20.75,"v":11.22},{"t":21.2,"v":10.3},{"t":21.7,"v":9.9},{"t":22.1,"v":9.51},{"t":22.6,"v":8.99},{"t":22.9,"v":8.07},{"t":23.3,"v":7.68},{"t":24.0,"v":7.35}
],
"p3r":[
{"t":0,"v":7.09},{"t":0.2,"v":7.05},{"t":0.4,"v":7.02},{"t":0.73,"v":6.83},{"t":1.0,"v":6.6},{"t":1.2,"v":6.43},{"t":1.5,"v":6.37},{"t":1.9,"v":6.47},{"t":2.2,"v":6.39},{"t":2.45,"v":6.5},{"t":2.7,"v":6.34},{"t":3.0,"v":6.43},{"t":3.5,"v":6.47},{"t":3.7,"v":6.56},{"t":3.94,"v":7.02},{"t":4.3,"v":7.28},{"t":4.7,"v":7.8},{"t":5.2,"v":8.6},{"t":5.65,"v":9.12},{"t":6.0,"v":9.9},{"t":6.45,"v":10.69},{"t":6.8,"v":11.1},{"t":7.25,"v":12.0},{"t":7.6,"v":12.79},{"t":7.9,"v":13.44},{"t":8.4,"v":13.9},{"t":8.86,"v":14.17},{"t":9.1,"v":14.23},{"t":9.3,"v":14.9},{"t":9.5,"v":15.6},{"t":9.66,"v":15.28},{"t":9.9,"v":14.3},{"t":10.0,"v":14.17},{"t":10.2,"v":15.47},{"t":10.3,"v":14.6},{"t":10.46,"v":14.5},{"t":10.7,"v":14.6},{"t":10.9,"v":14.56},{"t":11.0,"v":15.3},{"t":11.1,"v":15.74},{"t":11.25,"v":14.8},{"t":11.4,"v":15.02},{"t":11.6,"v":15.28},{"t":11.8,"v":14.7},{"t":12.06,"v":14.36},{"t":12.3,"v":14.62},{"t":12.5,"v":14.95},{"t":12.86,"v":14.88},{"t":13.2,"v":14.82},{"t":13.4,"v":14.5},{"t":13.66,"v":14.3},{"t":13.8,"v":14.9},{"t":13.9,"v":15.54},{"t":14.0,"v":14.7},{"t":14.1,"v":14.5},{"t":14.2,"v":13.9},{"t":14.3,"v":13.44},{"t":14.46,"v":14.1},{"t":14.6,"v":14.5},{"t":14.7,"v":15.15},{"t":14.8,"v":16.0},{"t":14.9,"v":15.0},{"t":15.0,"v":14.75},{"t":15.1,"v":15.6},{"t":15.15,"v":15.93},{"t":15.3,"v":15.0},{"t":15.4,"v":14.6},{"t":15.5,"v":16.0},{"t":15.6,"v":16.07},{"t":15.8,"v":15.8},{"t":16.0,"v":15.4},{"t":16.2,"v":15.15},{"t":16.5,"v":14.62},{"t":16.9,"v":13.84},{"t":17.1,"v":13.44},{"t":17.55,"v":13.5},{"t":17.9,"v":13.7},{"t":18.2,"v":13.38},{"t":18.6,"v":13.05},{"t":18.9,"v":12.79},{"t":19.3,"v":12.26},{"t":19.7,"v":11.87},{"t":20.2,"v":11.48},{"t":20.5,"v":10.69},{"t":20.75,"v":9.9},{"t":21.2,"v":9.64},{"t":21.7,"v":9.25},{"t":22.1,"v":9.05},{"t":22.6,"v":8.72},{"t":22.9,"v":8.2},{"t":23.0,"v":7.6},{"t":23.2,"v":7.55},{"t":23.5,"v":7.42},{"t":23.85,"v":7.15},{"t":24.0,"v":6.96}
]
},
"hconcat":[
{
"width":283,"height":1059,
"layer":[
{"data":{"values":[{"x":18,"y":491,"x2":258.3,"y2":156.5},{"x":18,"y":491,"x2":254,"y2":491},{"x":18,"y":491,"x2":262.8,"y2":886.2}]},
"mark":{"type":"rule","color":"black","strokeWidth":3,"clip":true},
"encoding":{"x":{"field":"x","type":"quantitative","scale":{"domain":[0,283],"nice":false,"zero":false},"axis":null},"y":{"field":"y","type":"quantitative","scale":{"domain":[10,1069],"nice":false,"zero":false,"reverse":true},"axis":null},"x2":{"field":"x2"},"y2":{"field":"y2"}}},
{"data":{"values":[{"x":258.3,"y":156.5,"a":305.7},{"x":254,"y":491,"a":0},{"x":262.8,"y":886.2,"a":58.2}]},
"mark":{"type":"point","shape":"M1,0L-1,-0.95L-1,0.95Z","filled":true,"color":"black","opacity":1,"size":256,"clip":true},
"encoding":{"x":{"field":"x","type":"quantitative","scale":{"domain":[0,283],"nice":false,"zero":false},"axis":null},"y":{"field":"y","type":"quantitative","scale":{"domain":[10,1069],"nice":false,"zero":false,"reverse":true},"axis":null},"angle":{"field":"a","type":"quantitative","scale":null}}},
{"data":{"values":[{"x":1,"y":55,"txt":"lusterizadas"},{"x":-6,"y":150,"txt":"s"}]},
"mark":{"type":"text","font":"Lato","fontWeight":"bold","fontSize":43,"align":"left","baseline":"alphabetic","color":"black","clip":true},
"encoding":{"x":{"field":"x","type":"quantitative","scale":{"domain":[0,283],"nice":false,"zero":false},"axis":null},"y":{"field":"y","type":"quantitative","scale":{"domain":[10,1069],"nice":false,"zero":false,"reverse":true},"axis":null},"text":{"field":"txt"}}}
]
},
{
"vconcat":[
{
"width":384,"height":283,"view":{"fill":"#EAEAF2"},
"encoding":{"x":{"field":"t","type":"quantitative","scale":{"domain":[-1.15,25.15],"nice":false,"zero":false},"axis":{"values":[0,4,8,12,16,20],"title":"Time (hour)","labelPadding":9,"titlePadding":3}},"y":{"field":"v","type":"quantitative","scale":{"domain":[5.05,16.64],"nice":false,"zero":false},"axis":{"values":[6,8,10,12,14,16],"title":"S (MVA)","labelPadding":11,"titlePadding":3}}},
"layer":[
{"data":{"name":"p1"},"mark":{"type":"line","color":"#4c72b0","opacity":0.5,"strokeWidth":1.5},"encoding":{"detail":{"field":"s","type":"nominal"}}},
{"data":{"name":"p1r"},"mark":{"type":"line","color":"#c44e52","strokeWidth":2}}
]
},
{"width":384,"height":59,"data":{"values":[{"k":1}]},"mark":{"type":"text","text":""},"encoding":{}},
{
"width":384,"height":281,"view":{"fill":"#EAEAF2"},
"encoding":{"x":{"field":"t","type":"quantitative","scale":{"domain":[-1.15,25.15],"nice":false,"zero":false},"axis":{"values":[0,4,8,12,16,20],"title":"Time (hour)","labelPadding":9,"titlePadding":3}},"y":{"field":"v","type":"quantitative","scale":{"domain":[5.39,16.57],"nice":false,"zero":false},"axis":{"values":[6,8,10,12,14,16],"title":"S (MVA)","labelPadding":11,"titlePadding":3}}},
"layer":[
{"data":{"name":"p2"},"mark":{"type":"line","color":"#4c72b0","strokeWidth":1.6},"encoding":{"detail":{"field":"s","type":"nominal"}}},
{"data":{"name":"p2r"},"mark":{"type":"line","color":"#c44e52","strokeWidth":2}}
]
},
{"width":384,"height":113,"data":{"values":[{"t":11.85,"y":57.5},{"t":11.85,"y":76},{"t":11.85,"y":94.5}]},
"mark":{"type":"circle","color":"black","opacity":1,"size":55},
"encoding":{"x":{"field":"t","type":"quantitative","scale":{"domain":[-1.15,25.15],"nice":false,"zero":false},"axis":null},"y":{"field":"y","type":"quantitative","scale":{"domain":[0,113],"nice":false,"zero":false,"reverse":true},"axis":null}}},
{
"width":384,"height":283,"view":{"fill":"#EAEAF2"},
"encoding":{"x":{"field":"t","type":"quantitative","scale":{"domain":[-1.15,25.15],"nice":false,"zero":false},"axis":{"values":[0,4,8,12,16,20],"title":"Time (hour)","labelPadding":9,"titlePadding":3}},"y":{"field":"v","type":"quantitative","scale":{"domain":[5.84,16.98],"nice":false,"zero":false},"axis":{"values":[6,8,10,12,14,16],"title":"S (MVA)","labelPadding":11,"titlePadding":3}}},
"layer":[
{"data":{"name":"p3b"},"mark":{"type":"line","color":"#4c72b0","opacity":0.45,"strokeWidth":1.6}},
{"data":{"name":"p3r"},"mark":{"type":"line","color":"#c44e52","strokeWidth":1.8}}
]
}
],
"spacing":0,"bounds":"flush"
},
{
"width":243,"height":1059,
"layer":[
{"data":{"values":[{"x":761,"x2":965,"y":114,"y2":191},{"x":760,"x2":944,"y":467,"y2":543},{"x":766,"x2":943,"y":862,"y2":938}]},
"mark":{"type":"rect","color":"#808080","opacity":0.18,"xOffset":5,"x2Offset":5,"yOffset":7,"y2Offset":7,"clip":true},
"encoding":{"x":{"field":"x","type":"quantitative","scale":{"domain":[710,953],"nice":false,"zero":false},"axis":null},"y":{"field":"y","type":"quantitative","scale":{"domain":[10,1069],"nice":false,"zero":false,"reverse":true},"axis":null},"x2":{"field":"x2"},"y2":{"field":"y2"}}},
{"data":{"values":[{"x":761,"x2":965,"y":114,"y2":191},{"x":760,"x2":944,"y":467,"y2":543},{"x":766,"x2":943,"y":862,"y2":938}]},
"mark":{"type":"rect","color":"#606060","opacity":0.35,"xOffset":3,"x2Offset":3,"yOffset":4,"y2Offset":4,"clip":true},
"encoding":{"x":{"field":"x","type":"quantitative","scale":{"domain":[710,953],"nice":false,"zero":false},"axis":null},"y":{"field":"y","type":"quantitative","scale":{"domain":[10,1069],"nice":false,"zero":false,"reverse":true},"axis":null},"x2":{"field":"x2"},"y2":{"field":"y2"}}},
{"data":{"values":[{"x":761,"x2":965,"y":114,"y2":191},{"x":760,"x2":944,"y":467,"y2":543},{"x":766,"x2":943,"y":862,"y2":938}]},
"mark":{"type":"rect","color":"#FFE699","opacity":1,"clip":true},
"encoding":{"x":{"field":"x","type":"quantitative","scale":{"domain":[710,953],"nice":false,"zero":false},"axis":null},"y":{"field":"y","type":"quantitative","scale":{"domain":[10,1069],"nice":false,"zero":false,"reverse":true},"axis":null},"x2":{"field":"x2"},"y2":{"field":"y2"}}},
{"data":{"values":[{"x":782,"y":170,"label":"14 dias"},{"x":780,"y":520,"label":"7 dias"},{"x":787,"y":915,"label":"2 dias"}]},
"mark":{"type":"text","font":"Lato","fontWeight":"bold","fontSize":42,"align":"left","baseline":"alphabetic","color":"black","clip":true},
"encoding":{"x":{"field":"x","type":"quantitative","scale":{"domain":[710,953],"nice":false,"zero":false},"axis":null},"y":{"field":"y","type":"quantitative","scale":{"domain":[10,1069],"nice":false,"zero":false,"reverse":true},"axis":null},"text":{"field":"label"}}}
]
}
]
}
